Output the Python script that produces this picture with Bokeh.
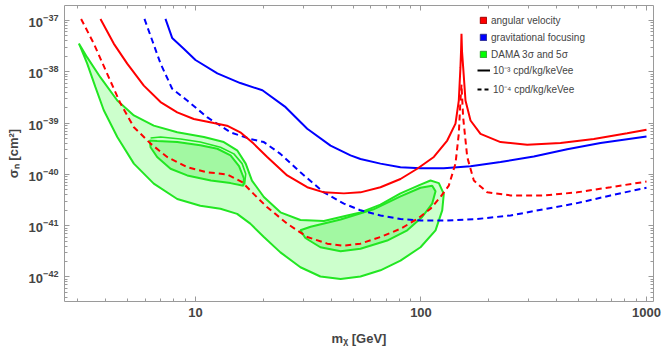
from bokeh.plotting import figure
from bokeh.models import (Range1d, LogAxis, FixedTicker, LogTickFormatter,
                          BasicTickFormatter, Legend, LegendItem, CustomJSTickFormatter)
from bokeh.embed import file_html
from bokeh.resources import INLINE

# ---------------- data ----------------
# angular velocity, 1e-3 cpd/kg/keVee (red solid)
av3_m = [3.79, 4.34, 4.98, 5.90, 7.00, 8.30, 9.83, 12.05, 13.8, 15.8, 18.1, 20.8, 25.5, 31.3,
         37.1, 45.5, 53.9, 66.1, 81.1, 96.2, 114, 130.7, 142.2, 147.1, 149.6, 150.5, 151.2,
         152.0, 153.8, 157.5, 165.8, 183.6, 225.2, 295.8, 415.6, 583.9, 821, 1000]
av3_s = [1.072e-37, 3.548e-38, 1.445e-38, 5.370e-39, 2.570e-39, 1.622e-39, 1.202e-39, 1.0e-39,
         8.913e-40, 6.607e-40, 3.981e-40, 2.188e-40, 9.550e-41, 5.623e-41, 4.467e-41, 4.266e-41,
         4.467e-41, 5.623e-41, 8.128e-41, 1.288e-40, 2.188e-40, 4.571e-40, 9.772e-40, 2.754e-39,
         1.230e-38, 2.512e-38, 5.495e-38, 2.512e-38, 1.230e-38, 2.754e-39, 1.122e-39, 6.166e-40,
         4.266e-40, 3.802e-40, 4.074e-40, 4.898e-40, 6.310e-40, 7.413e-40]

# angular velocity, 1e-4 cpd/kg/keVee (red dashed)
av4_m = [3.11, 3.54, 4.06, 4.65, 5.33, 6.32, 7.49, 9.19, 11.3, 13.8, 16.1, 18.1, 20.8, 25.5,
         31.3, 38.4, 45.5, 53.9, 66.1, 81.1, 96.2, 110.2, 122, 132.8, 142.2, 147.1, 149.6,
         151.2, 153.8, 160.3, 171.5, 196.6, 249.5, 350.4, 492.8, 692.6, 1000]
av4_s = [1.072e-37, 3.548e-38, 9.120e-39, 2.399e-39, 8.318e-40, 3.981e-40, 2.188e-40, 1.380e-40,
         1.096e-40, 1.0e-40, 7.079e-41, 4.169e-41, 2.291e-41, 1.096e-41, 6.026e-42, 4.467e-42,
         4.074e-42, 4.467e-42, 6.026e-42, 8.710e-42, 1.349e-41, 2.138e-41, 3.631e-41, 6.026e-41,
         1.622e-40, 6.166e-40, 2.754e-39, 5.623e-39, 1.288e-39, 2.188e-40, 7.586e-41, 4.467e-41,
         3.890e-41, 3.890e-41, 4.467e-41, 5.623e-41, 7.244e-41]

# gravitational focusing, 1e-3 (blue solid)
gf3_m = [7.36, 7.88, 8.87, 10.0, 12.5, 15.8, 19.8, 25.1, 31.3, 39.7, 48.7, 53.9, 66.1, 81.1,
         99.5, 126.2, 165.8, 225.2, 316.4, 444.9, 625.2, 1000]
gf3_s = [1.072e-37, 4.571e-38, 2.818e-38, 1.698e-38, 9.333e-39, 6.026e-39, 4.365e-39, 2.042e-39,
         7.762e-40, 3.631e-40, 2.344e-40, 1.995e-40, 1.622e-40, 1.380e-40, 1.318e-40, 1.318e-40,
         1.445e-40, 1.738e-40, 2.239e-40, 3.090e-40, 4.074e-40, 5.495e-40]

# gravitational focusing, 1e-4 (blue dashed)
gf4_m = [5.94, 6.43, 7.00, 7.88, 9.19, 11.3, 14.3, 17.5, 20.1, 23.8, 29.2, 37.1, 45.5, 53.9,
         66.1, 81.1, 99.5, 130.7, 177.5, 249.5, 350.4, 492.8, 692.6, 1000]
gf4_s = [1.072e-37, 4.074e-38, 1.445e-38, 4.677e-39, 2.754e-39, 1.288e-39, 6.607e-40, 4.898e-40,
         4.266e-40, 2.512e-40, 1.096e-40, 4.467e-41, 2.692e-41, 1.995e-41, 1.585e-41, 1.349e-41,
         1.259e-41, 1.259e-41, 1.349e-41, 1.585e-41, 2.089e-41, 2.754e-41, 3.890e-41, 5.495e-41]

# DAMA 5 sigma region (outline)
d5_m = [3.04, 3.31, 3.79, 4.50, 5.33, 6.53, 8.30, 10.9, 13.35, 15.3, 16.7, 17.8, 20.1, 23.8,
        29.2, 37.1, 47.1, 53.9, 66.1, 81.1, 99.5, 110.2, 120, 126.2, 124.2, 116, 99.5, 81.1,
        66.1, 53.9, 44.0, 35.8, 29.2, 23.8, 20.1, 17.5, 15.3, 12.9, 10.5, 8.30, 6.53, 5.33,
        4.50, 3.92, 3.60, 3.31, 3.09]
d5_s = [3.548e-38, 1.905e-38, 7.762e-39, 2.754e-39, 1.413e-39, 8.913e-40, 6.607e-40, 5.370e-40,
        4.266e-40, 2.951e-40, 1.622e-40, 7.586e-41, 3.631e-41, 1.820e-41, 1.288e-41, 1.230e-41,
        1.585e-41, 1.820e-41, 2.570e-41, 4.266e-41, 6.310e-41, 7.586e-41, 6.761e-41, 4.169e-41,
        1.995e-41, 8.128e-42, 3.802e-42, 2.089e-42, 1.349e-42, 1.023e-42, 9.120e-43, 1.023e-42,
        1.549e-42, 3.020e-42, 6.026e-42, 1.096e-41, 1.698e-41, 2.138e-41, 2.455e-41, 3.311e-41,
        6.607e-41, 1.622e-40, 5.370e-40, 1.778e-39, 5.012e-39, 1.445e-38, 3.020e-38]

# DAMA 3 sigma, low-mass island
d3a_m = [6.27, 6.76, 8.30, 10.5, 12.5, 14.3, 15.6, 16.4, 16.3, 14.3, 11.7, 9.19, 7.75, 6.76, 6.32]
d3a_s = [4.571e-40, 4.467e-40, 4.266e-40, 3.715e-40, 3.162e-40, 2.344e-40, 1.445e-40, 8.318e-41,
         6.026e-41, 6.761e-41, 7.586e-41, 9.550e-41, 1.288e-40, 2.188e-40, 3.388e-40]
# second contour hugging the low-mass island (top / right side)
d3a_out_m = [6.32, 7.00, 8.58, 10.5, 12.9, 14.8, 16.1, 16.7, 16.5]
d3a_out_s = [5.129e-40, 5.370e-40, 4.898e-40, 4.266e-40, 3.388e-40, 2.512e-40, 1.622e-40,
             1.023e-40, 6.310e-41]

# DAMA 3 sigma, high-mass island
d3b_m = [29.2, 32.4, 44.0, 61.6, 81.1, 99.5, 112.1, 116, 112.1, 101.2, 86.9, 70.8, 53.9, 44.0,
         35.8, 30.7]
d3b_s = [8.128e-42, 9.550e-42, 1.318e-41, 2.089e-41, 3.715e-41, 5.495e-41, 6.026e-41, 4.677e-41,
         2.692e-41, 1.479e-41, 8.128e-42, 5.129e-42, 3.548e-42, 3.162e-42, 3.802e-42, 5.754e-42]

x_major = [10, 100, 1000]
y_major = [1e-42, 1e-41, 1e-40, 1e-39, 1e-38, 1e-37]

# ---------------- figure ----------------
RED, BLUE, GREEN = "#ff0000", "#0000ff", "#22e622"
FONT = "Liberation Sans"
AXC = "#9a9a9a"
NAN = float("nan")

p = figure(width=664, height=351, x_axis_type="log", y_axis_type="log",
           x_range=Range1d(2.625, 1074), y_range=Range1d(3.33e-43, 1.959e-37),
           output_backend="svg", toolbar_location=None,
           min_border_left=64, min_border_right=11, min_border_top=5, min_border_bottom=50)
p.grid.visible = False
p.outline_line_color = None
p.background_fill_color = "white"

x_minor = [k * 10.0 ** e for e in range(0, 3) for k in range(2, 10)]
y_minor = [k * float(f"1e{e}") for e in range(-43, -36) for k in range(2, 10)]
xt = FixedTicker(ticks=x_major, minor_ticks=x_minor)
yt = FixedTicker(ticks=y_major, minor_ticks=y_minor)

def style(ax):
    ax.axis_line_color = AXC
    ax.major_tick_line_color = AXC
    ax.minor_tick_line_color = AXC
    ax.major_tick_in = 5
    ax.major_tick_out = 0
    ax.minor_tick_in = 3
    ax.minor_tick_out = 0

xa = p.xaxis[0]
xa.ticker = xt
xa.formatter = BasicTickFormatter()
style(xa)
xa.major_label_text_font = FONT
xa.major_label_text_font_style = "bold"
xa.major_label_text_font_size = "13px"
xa.major_label_standoff = 6
xa.axis_label = "mᵪ [GeV]"
xa.axis_label_text_font = FONT
xa.axis_label_text_font_style = "bold"
xa.axis_label_text_font_size = "13px"
xa.axis_label_standoff = 11

ya = p.yaxis[0]
ya.ticker = yt
ya.formatter = LogTickFormatter()
style(ya)
ya.major_label_text_font = FONT
ya.major_label_text_font_style = "bold"
ya.major_label_text_font_size = "13px"
ya.major_label_standoff = 6
ya.axis_label = "σₙ [cm²]"
ya.axis_label_text_font = FONT
ya.axis_label_text_font_style = "bold"
ya.axis_label_text_font_size = "13px"
ya.axis_label_standoff = 5

blank = CustomJSTickFormatter(code="return ''")
top = LogAxis(ticker=xt, formatter=blank, major_label_text_font_size="0px",
              major_label_standoff=0)
right = LogAxis(ticker=yt, formatter=blank, major_label_text_font_size="0px",
                major_label_standoff=0)
style(top)
style(right)
p.add_layout(top, "above")
p.add_layout(right, "right")

# DAMA regions
p.patch(d5_m, d5_s, fill_color="#ccffcc", line_color=GREEN, line_width=2)
p.patch(d3a_m, d3a_s, fill_color="#a2f8a2", line_color=GREEN, line_width=2)
p.line(d3a_out_m, d3a_out_s, line_color=GREEN, line_width=1.6)
p.patch(d3b_m, d3b_s, fill_color="#a2f8a2", line_color=GREEN, line_width=2)

# curves
p.line(gf3_m, gf3_s, line_color=BLUE, line_width=2)
p.line(gf4_m, gf4_s, line_color=BLUE, line_width=2, line_dash="6 4")
p.line(av3_m, av3_s, line_color=RED, line_width=2)
p.line(av4_m, av4_s, line_color=RED, line_width=2, line_dash="6 4")

# legend proxies (no visible marks)
lr = p.patch([NAN], [NAN], fill_color=RED, line_color="#a00000", line_width=1)
lb = p.patch([NAN], [NAN], fill_color=BLUE, line_color="#303090", line_width=1)
lg = p.patch([NAN], [NAN], fill_color="#00ff00", line_color="#30a030", line_width=1)
ls = p.line([NAN], [NAN], line_color="black", line_width=2)
ld = p.line([NAN], [NAN], line_color="black", line_width=2, line_dash="4 3")

common = dict(orientation="vertical", padding=0, margin=0, border_line_color=None,
              background_fill_alpha=0, label_text_font=FONT, label_text_font_size="10px",
              label_height=13)
leg1 = Legend(items=[LegendItem(label="angular velocity", renderers=[lr]),
                     LegendItem(label="gravitational focusing", renderers=[lb]),
                     LegendItem(label="DAMA 3σ and 5σ", renderers=[lg])],
              location=(415, 240.5), glyph_width=8, glyph_height=8, label_standoff=4,
              spacing=4, **common)
leg2 = Legend(items=[LegendItem(label="10⁻³ cpd/kg/keVee", renderers=[ls]),
                     LegendItem(label="10⁻⁴ cpd/kg/keVee", renderers=[ld])],
              location=(413, 205.5), glyph_width=13, glyph_height=8, label_standoff=3,
              spacing=5, **common)
p.add_layout(leg1)
p.add_layout(leg2)

open("out.html", "w").write(file_html(p, INLINE))
